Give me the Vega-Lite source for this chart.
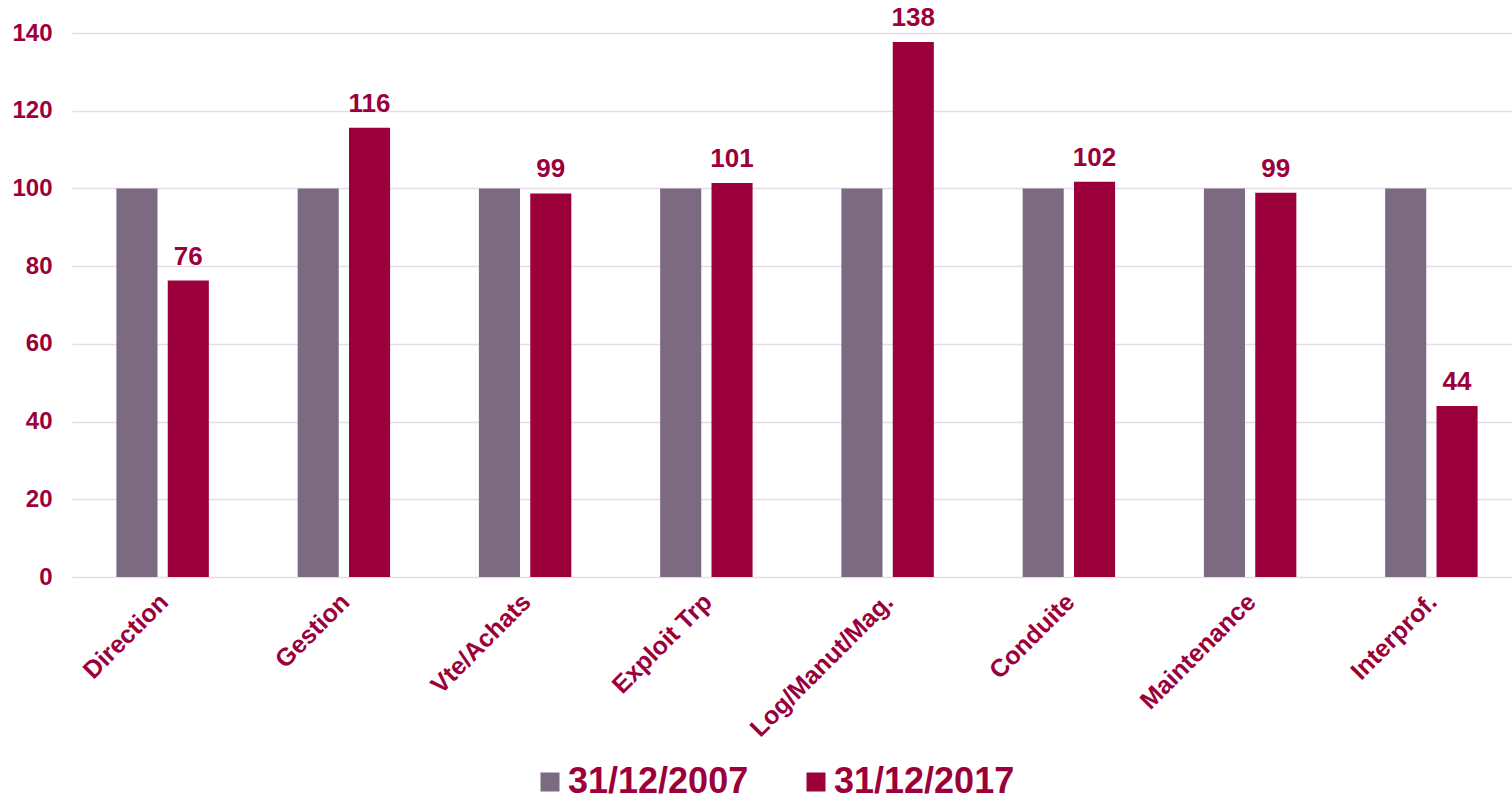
{
  "$schema": "https://vega.github.io/schema/vega-lite/v6.json",
  "autosize": {"type": "none"},
  "width": 1450,
  "height": 544,
  "padding": {"left": 72, "top": 33, "right": 0, "bottom": 230},
  "background": "white",
  "config": {
    "view": {"stroke": null},
    "font": "Liberation Sans"
  },
  "data": {
    "values": [
      {"cat": "Direction", "serie": "31/12/2007", "v": 100},
      {"cat": "Direction", "serie": "31/12/2017", "v": 76.3},
      {"cat": "Gestion", "serie": "31/12/2007", "v": 100},
      {"cat": "Gestion", "serie": "31/12/2017", "v": 115.6},
      {"cat": "Vte/Achats", "serie": "31/12/2007", "v": 100},
      {"cat": "Vte/Achats", "serie": "31/12/2017", "v": 98.7},
      {"cat": "Exploit Trp", "serie": "31/12/2007", "v": 100},
      {"cat": "Exploit Trp", "serie": "31/12/2017", "v": 101.4},
      {"cat": "Log/Manut/Mag.", "serie": "31/12/2007", "v": 100},
      {"cat": "Log/Manut/Mag.", "serie": "31/12/2017", "v": 137.7},
      {"cat": "Conduite", "serie": "31/12/2007", "v": 100},
      {"cat": "Conduite", "serie": "31/12/2017", "v": 101.7},
      {"cat": "Maintenance", "serie": "31/12/2007", "v": 100},
      {"cat": "Maintenance", "serie": "31/12/2017", "v": 98.9},
      {"cat": "Interprof.", "serie": "31/12/2007", "v": 100},
      {"cat": "Interprof.", "serie": "31/12/2017", "v": 44.0}
    ]
  },
  "encoding": {
    "x": {
      "field": "cat", "type": "nominal", "sort": null,
      "scale": {"paddingInner": 0.49, "paddingOuter": 0.245},
      "axis": {
        "title": null, "domain": false, "ticks": false,
        "labelAngle": -45, "labelFontSize": 25, "labelFontWeight": "bold",
        "labelColor": "#9B003B", "labelPadding": 12, "labelLimit": 400, "labelOffset": -7
      }
    },
    "xOffset": {"field": "serie", "type": "nominal", "scale": {"paddingInner": 0.2, "paddingOuter": 0}},
    "y": {
      "field": "v", "type": "quantitative",
      "scale": {"domain": [0, 140]},
      "axis": {
        "title": null, "domain": false, "ticks": false,
        "values": [0, 20, 40, 60, 80, 100, 120, 140],
        "labelFontSize": 24, "labelFontWeight": "bold", "labelColor": "#9B003B",
        "labelPadding": 20, "gridColor": "#E4DCE7", "gridWidth": 1.5
      }
    },
    "color": {
      "field": "serie", "type": "nominal",
      "scale": {"domain": ["31/12/2007", "31/12/2017"], "range": ["#7B6A80", "#9B003B"]},
      "legend": {
        "title": null, "orient": "none", "direction": "horizontal",
        "legendX": 460, "legendY": 731,
        "symbolType": "square", "symbolSize": 361, "symbolStrokeWidth": 0,
        "labelFontSize": 36, "labelFontWeight": "bold", "labelColor": "#9B003B",
        "labelOffset": 0, "columnPadding": 49, "labelLimit": 400
      }
    }
  },
  "layer": [
    {"mark": {"type": "bar"}},
    {
      "transform": [{"filter": "datum.serie == '31/12/2017'"}],
      "mark": {"type": "text", "dy": -16, "baseline": "alphabetic", "fontSize": 26, "fontWeight": "bold", "color": "#9B003B"},
      "encoding": {
        "text": {"field": "v", "type": "quantitative", "format": ".0f"},
        "color": {"value": "#9B003B"}
      }
    }
  ]
}
